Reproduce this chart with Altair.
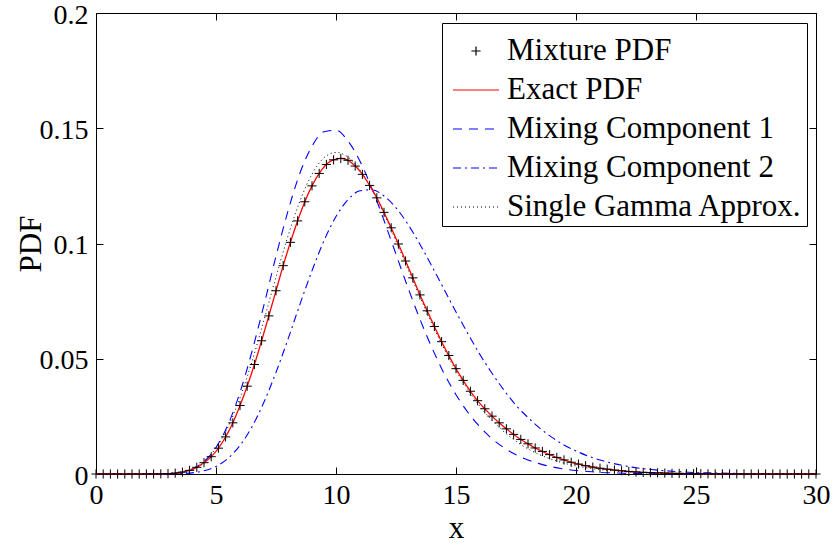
import altair as alt
import pandas as pd

# ---------------- data ----------------
x_fine = [round(0.3 * i, 1) for i in range(101)]      # 0, 0.3, ..., 30 (marker grid)
x_coarse = [0.5 * i for i in range(61)]               # 0, 0.5, ..., 30

mixture_pdf = [
    0, 0, 0, 0, 0, 0, 0, 0.00001, 0.00003, 0.00006,
    0.00016, 0.00038, 0.00081, 0.00157, 0.0029, 0.0049, 0.0075, 0.0112, 0.0161, 0.0222,
    0.0297, 0.0381, 0.0475, 0.0578, 0.0686, 0.0795, 0.0904, 0.1005, 0.1098, 0.1181,
    0.1250, 0.1304, 0.1343, 0.1363, 0.1369, 0.1361, 0.1336, 0.1300, 0.1252, 0.1198,
    0.1135, 0.1068, 0.0998, 0.0924, 0.0851, 0.0777, 0.0708, 0.0640, 0.0574, 0.0514,
    0.0457, 0.0406, 0.0359, 0.0318, 0.0283, 0.0251, 0.0222, 0.0196, 0.0172, 0.0150,
    0.0131, 0.0113, 0.0098, 0.0084, 0.0072, 0.0061, 0.0051, 0.0043, 0.0036, 0.0030,
    0.0025, 0.0021, 0.0017, 0.0014, 0.0011, 0.0009, 0.0007, 0.0006, 0.0005, 0.0004,
    0.0003, 0.00024, 0.00019, 0.00015, 0.00012, 0.00009, 0.00007, 0.00005, 0.00004, 0.00003,
    0.00002, 0.00002, 0.00001, 0.00001, 0, 0, 0, 0, 0, 0,
    0,
]
exact_pdf = list(mixture_pdf)   # the markers sit on the exact curve

mixing_comp1 = [
    0, 0, 0, 0, 0, 0.00003, 0.00016, 0.00067, 0.0021, 0.0054,
    0.0115, 0.0214, 0.0354, 0.0532, 0.0734, 0.0945, 0.1141, 0.1306, 0.1422, 0.1485,
    0.1491, 0.1445, 0.1357, 0.1238, 0.1100, 0.0953, 0.0808, 0.0671, 0.0547, 0.0437,
    0.0344, 0.0267, 0.0204, 0.0153, 0.0114, 0.0084, 0.0061, 0.0044, 0.0031, 0.0022,
    0.0015, 0.0011, 0.0007, 0.0005, 0.0003, 0.0002, 0.00015, 0.0001, 0.00006, 0.00004,
    0.00003, 0.00002, 0.00001, 0, 0, 0, 0, 0, 0, 0,
    0,
]
mixing_comp2 = [
    0, 0, 0, 0, 0, 0, 0.00003, 0.00015, 0.0005, 0.0014,
    0.0033, 0.0068, 0.0124, 0.0205, 0.0312, 0.0441, 0.0585, 0.0737, 0.0882, 0.1012,
    0.1117, 0.1190, 0.1229, 0.1233, 0.1206, 0.1155, 0.1083, 0.0996, 0.0901, 0.0802,
    0.0703, 0.0608, 0.0518, 0.0437, 0.0364, 0.0298, 0.0245, 0.0198, 0.0159, 0.0126,
    0.0100, 0.0078, 0.0061, 0.0047, 0.0036, 0.0027, 0.0021, 0.0016, 0.0012, 0.0009,
    0.0006, 0.0005, 0.0004, 0.0003, 0.0002, 0.00015, 0.0001, 0.00007, 0.00005, 0.00004,
    0.00003,
]
single_gamma = [
    0, 0, 0, 0, 0, 0.00003, 0.0002, 0.0008, 0.0023, 0.0055,
    0.0113, 0.0204, 0.0330, 0.0488, 0.0668, 0.0855, 0.1032, 0.1185, 0.1301, 0.1372,
    0.1395, 0.1375, 0.1319, 0.1234, 0.1128, 0.1011, 0.0888, 0.0767, 0.0651, 0.0544,
    0.0449, 0.0365, 0.0293, 0.0233, 0.0183, 0.0142, 0.0109, 0.0083, 0.0063, 0.0047,
    0.0035, 0.0026, 0.0019, 0.0014, 0.0010, 0.0007, 0.0005, 0.00036, 0.00025, 0.00018,
    0.00012, 0.00008, 0.00006, 0.00004, 0.00003, 0.00002, 0.00001, 0.00001, 0, 0,
    0,
]

SERIES = ["Mixture PDF", "Exact PDF", "Mixing Component 1",
          "Mixing Component 2", "Single Gamma Approx."]
x_ticks = [0, 5, 10, 15, 20, 25, 30]
y_ticks = [0, 0.05, 0.1, 0.15, 0.2]

# ---------------- table ----------------
rows = []
for name, xs, ys in [(SERIES[0], x_fine, mixture_pdf),
                     (SERIES[1], x_fine, exact_pdf),
                     (SERIES[2], x_coarse, mixing_comp1),
                     (SERIES[3], x_coarse, mixing_comp2),
                     (SERIES[4], x_coarse, single_gamma)]:
    for xv, yv in zip(xs, ys):
        rows.append({"x": xv, "y": yv, "series": name})
df = pd.DataFrame(rows)

# ---------------- styling ----------------
FONT = "Liberation Serif"
COLORS = ["#000000", "#ff0000", "#0000ff", "#0000ff", "#000000"]
DASHES = [[1, 0], [1, 0], [9, 7], [8, 4, 2, 4], [1, 3]]
PLUS = "M-0.2,0L0.2,0M0,-0.2L0,0.2"
SHAPES = [PLUS, "stroke", "stroke", "stroke", "stroke"]
W, H = 720, 461

legend = alt.Legend(
    title=None, orient="none", legendX=346, legendY=10,
    labelFont=FONT, labelFontSize=31, labelColor="black", labelLimit=600,
    labelOffset=7, rowPadding=0, padding=4, symbolOffset=6,
    symbolSize=2116, symbolStrokeWidth=1.2,
    strokeColor="black", fillColor="white",
)
color = alt.Color("series:N", scale=alt.Scale(domain=SERIES, range=COLORS), legend=legend)
dash = alt.StrokeDash("series:N", scale=alt.Scale(domain=SERIES, range=DASHES), legend=legend)
shape = alt.Shape("series:N", scale=alt.Scale(domain=SERIES, range=SHAPES), legend=legend)

xenc = alt.X("x:Q", scale=alt.Scale(domain=[0, 30], nice=False, zero=False),
             axis=alt.Axis(values=x_ticks, title="x", grid=True, gridDash=[7, H - 14, 7],
                           ticks=False, domain=False, labelPadding=7, titlePadding=4,
                           labelFlush=False))
yenc = alt.Y("y:Q", scale=alt.Scale(domain=[0, 0.2], nice=False),
             axis=alt.Axis(values=y_ticks, format="~g", title="PDF", grid=True,
                           gridDash=[7, W - 14, 7], ticks=False, domain=False,
                           labelPadding=8, labelOffset=2, titlePadding=-8,
                           labelFlush=False))

base = alt.Chart(df).encode(x=xenc, y=yenc)


def line_layer(name, width):
    return (base.transform_filter(alt.datum.series == name)
            .mark_line(strokeWidth=width, interpolate="monotone", clip=False)
            .encode(color=color, strokeDash=dash))


points = (base.transform_filter(alt.datum.series == SERIES[0])
          .mark_point(filled=False, size=2116, strokeWidth=1, opacity=1)
          .encode(color=color, shape=shape))

chart = (
    alt.layer(
        line_layer(SERIES[4], 1.0),
        line_layer(SERIES[2], 1.1),
        line_layer(SERIES[3], 1.1),
        line_layer(SERIES[1], 1.3),
        points,
    )
    .properties(width=W, height=H,
                padding={"left": 96, "top": 13, "right": 18, "bottom": 71},
                autosize=alt.AutoSizeParams(type="none"),
                background="white")
    .configure_view(stroke="black", strokeWidth=1)
    .configure_axis(labelFont=FONT, labelFontSize=28, labelColor="black",
                    titleFont=FONT, titleFontSize=31, titleFontWeight="normal",
                    titleColor="black", gridColor="black", gridOpacity=1, gridWidth=1)
)

chart.save("out.html", embed_options={"renderer": "svg", "actions": False})
